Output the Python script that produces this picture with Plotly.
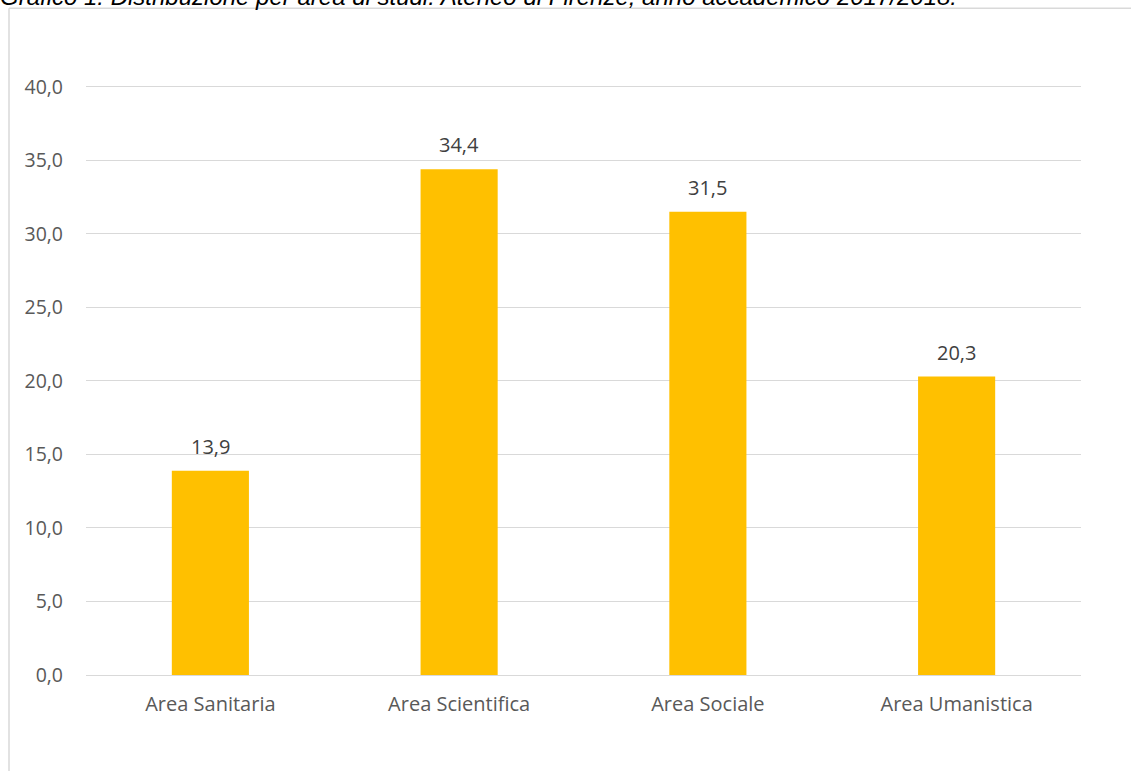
import plotly.graph_objects as go

categories = ["Area Sanitaria", "Area Scientifica", "Area Sociale", "Area Umanistica"]
values = [13.9, 34.4, 31.5, 20.3]
tick_vals = [0, 5, 10, 15, 20, 25, 30, 35, 40]
title_text = "Grafico 1. Distribuzione per area di studi. Ateneo di Firenze, anno accademico 2017/2018."

def fmt(v):
    return f"{v:.1f}".replace(".", ",")

FONT = "Open Sans, Lato, sans-serif"

fig = go.Figure()
fig.add_trace(go.Bar(
    x=categories, y=values,
    marker=dict(color="#FFC000", line=dict(width=0)),
    hoverinfo="skip",
))

W, H = 1131, 771
YMAX = 40.4
L, R, B = 86, 50, 96
ph = (675 - 87) * YMAX / 40.0
T = H - B - ph
pw = W - L - R

def px_x(p):
    return (p - L) / pw

def px_y(p):
    return (H - B - p) / ph

annotations = [
    dict(x=c, y=v, text=fmt(v), xref="x", yref="y", showarrow=False,
         xanchor="center", yanchor="bottom", yshift=9,
         font=dict(family=FONT, size=20, color="#404040"))
    for c, v in zip(categories, values)
]
annotations.append(
    dict(text="<i>" + title_text + "</i>", xref="paper", yref="paper",
         x=px_x(-2), y=px_y(12), xanchor="left", yanchor="bottom",
         showarrow=False,
         font=dict(family="Liberation Sans, Arial, sans-serif", size=24, color="#000000"))
)

fig.update_layout(
    width=W, height=H,
    margin=dict(l=L, r=R, t=T, b=B),
    paper_bgcolor="white", plot_bgcolor="white",
    bargap=0.69,
    showlegend=False,
    xaxis=dict(
        showgrid=False, showline=True, linecolor="#d9d9d9", linewidth=1,
        ticks="", tickfont=dict(family=FONT, size=20, color="#595959"),
        ticklabelstandoff=11,
    ),
    yaxis=dict(
        range=[0, YMAX], tickvals=tick_vals,
        ticktext=[fmt(v) for v in tick_vals],
        showgrid=True, gridcolor="#d9d9d9", gridwidth=1,
        zeroline=False, showline=False, ticks="",
        tickfont=dict(family=FONT, size=19.5, color="#595959"),
        ticklabelstandoff=22,
    ),
    shapes=[
        dict(type="line", xref="paper", yref="paper",
             x0=px_x(9), x1=px_x(9), y0=px_y(8.5), y1=px_y(H + 5),
             line=dict(color="#d9d9d9", width=1.5)),
        dict(type="line", xref="paper", yref="paper",
             x0=px_x(9), x1=px_x(W + 5), y0=px_y(8.5), y1=px_y(8.5),
             line=dict(color="#d9d9d9", width=1.5)),
    ],
    annotations=annotations,
)

fig.write_html("out.html", config={"displayModeBar": False},
               post_script="document.body.style.margin='0';document.documentElement.style.overflow='hidden';")
